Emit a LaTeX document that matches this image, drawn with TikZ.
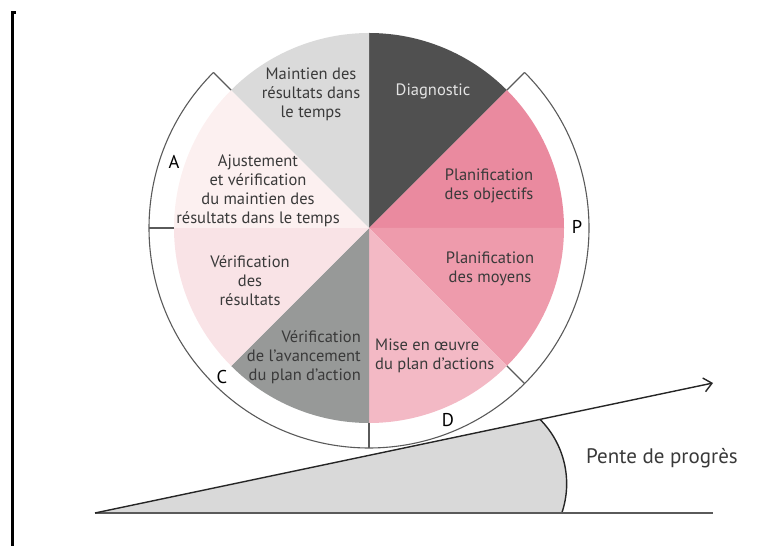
\documentclass[tikz,border=0pt]{standalone}
\usepackage{fontspec}
\setmainfont{PT Sans}
\usetikzlibrary{arrows.meta}
\definecolor{diag}{HTML}{505050}
\definecolor{pobj}{HTML}{EA8A9F}
\definecolor{pmoy}{HTML}{EE9BAC}
\definecolor{mise}{HTML}{F3B9C5}
\definecolor{vav}{HTML}{979998}
\definecolor{vres}{HTML}{F9E3E6}
\definecolor{ajust}{HTML}{FCF0F0}
\definecolor{maint}{HTML}{DADADA}
\definecolor{txt}{HTML}{3A3A3A}
\definecolor{diagtxt}{HTML}{E4E4E4}
\definecolor{ringc}{HTML}{5A5A5A}
\definecolor{wedge}{HTML}{D9D9D9}
\begin{document}
\begin{tikzpicture}[x=1pt,y=1pt,
  lbl/.style={font=\fontsize{16.5}{19}\selectfont, text=txt, align=center, inner sep=0pt},
  ring/.style={draw=ringc, line width=1.1pt},
  letter/.style={font=\fontsize{18.5}{20}\selectfont, text=black, inner sep=0pt},
  slope/.style={draw=black!85, line width=1.4pt},
  baseln/.style={draw=ringc, line width=1.8pt}]
\useasboundingbox (0,0) rectangle (784,546);
\coordinate (O) at (369,318);
% sectors
\foreach \a/\c in {45/diag, 0/pobj, -45/pmoy, -90/mise, -135/vav, -180/vres, 135/ajust, 90/maint}
  \fill[\c] (O) -- ++(\a:195) arc[start angle=\a, delta angle=45, radius=195] -- cycle;
% outer ring
\draw[ring] (O) ++(135:220) arc[start angle=135, end angle=405, radius=220];
\foreach \a in {45,135,180,270,315}
  \draw[ring] (O) ++(\a:195) -- ++(\a:25);
% labels
\node[lbl] (t1) at (311,452) {Maintien des\\résultats dans\\le temps};
\node[lbl, text=diagtxt] (t2) at (433,455) {Diagnostic};
\node[lbl] (t3) at (489,360) {Planification\\des objectifs};
\node[lbl] (t4) at (490,277) {Planification\\des moyens};
\node[lbl, align=left, anchor=west] (t5) at (375,190) {Mise en œuvre\\du plan d’actions};
\node[lbl, align=right, anchor=east] (t6) at (361,189) {Vérification\\de l’avancement\\du plan d’action};
\node[lbl] (t7) at (250,265) {Vérification\\des\\résultats};
\node[lbl] (t8) at (258,355) {Ajustement\\et vérification\\du maintien des\\résultats dans le temps};
% letters
\node[letter] (lA) at (174,384) {A};
\node[letter] (lP) at (577,319) {P};
\node[letter] (lC) at (222,169) {C};
\node[letter] (lD) at (448,126) {D};
% slope
\coordinate (S0) at (95,33);
\coordinate (Tip) at (713,163);
\coordinate (Bend) at (713,33);
\coordinate (K) at (540,126.6);
\fill[wedge] (S0) -- (K) arc[start angle=45, end angle=-19, radius=91] -- cycle;
\draw[slope] (K) arc[start angle=45, end angle=-19, radius=91];
\draw[baseln] (S0) -- (Bend);
\draw[slope, -{Straight Barb[length=8pt,width=14pt]}] (S0) -- (Tip);
\node[font=\fontsize{21}{23}\selectfont, text=txt, inner sep=0pt] (pente) at (662,88) {Pente de progrès};
% left bracket
\draw[line width=3pt] (16,533) -- (12,533) -- (12,0);
\end{tikzpicture}
\end{document}
